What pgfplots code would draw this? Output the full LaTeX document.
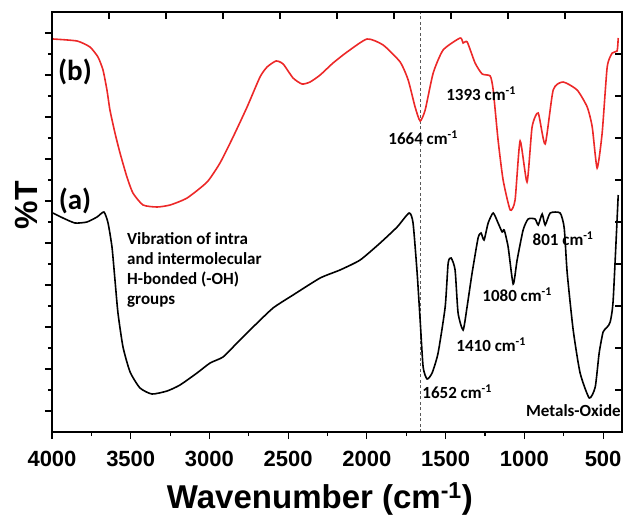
\documentclass[border=0pt]{standalone}
\usepackage{pgfplots}
\pgfplotsset{compat=1.18}
\usepackage{fontspec}
\setmainfont{Liberation Sans}
\newfontfamily\carl{Carlito}
\definecolor{specred}{RGB}{236,40,40}
\tikzset{ann/.style={font=\carl\bfseries\fontsize{17}{20}\selectfont, inner sep=0pt},
         lab/.style={font=\carl\bfseries\fontsize{29}{30}\selectfont, inner sep=0pt}}

\begin{document}
\begin{tikzpicture}
\useasboundingbox (-52pt,-85pt) rectangle (571pt,432pt);
% main axis: bottom and left, ticks outside
\begin{axis}[
  at={(0,0)}, anchor=south west,
  scale only axis, width=570pt, height=420pt,
  x dir=reverse, xmin=380, xmax=4000, ymin=0, ymax=420,
  xtick={500,1000,...,4000}, minor x tick num=1,
  ytick={21,63,...,399}, minor ytick={42,84,...,378}, yticklabels={},
  tick pos=left, tick align=outside,
  major tick length=7pt, minor tick length=4pt,
  every tick/.style={black, line width=1.1pt},
  axis line style={line width=1.2pt},
  clip=false,
  /pgf/number format/assume math mode=true,
  /pgf/number format/set thousands separator={},
  xticklabel style={font=\fontsize{22}{24}\selectfont\bfseries, anchor=base, yshift=-27pt},
  xlabel={Wavenumber (cm\textsuperscript{-1})},
  xlabel style={font=\fontsize{33}{34}\selectfont\bfseries, at={(axis description cs:0.47,-0.181)}, anchor=base},
  ylabel={\%T},
  ylabel style={font=\fontsize{32}{34}\selectfont\bfseries, at={(axis description cs:-0.044,0.54)}, anchor=center},
]
% dashed marker line at 1662 cm-1
\addplot[gray!70!black, line width=0.9pt, dash pattern=on 3pt off 2.5pt] coordinates {(1662,0) (1662,420)};

% (b) red spectrum
\addplot[specred, line width=1.6pt, smooth, tension=0.35] coordinates {
(3994,393) (3841,391) (3759,385) (3708,375) (3676,362) (3651,342) (3632,322)
(3600,299) (3568,279) (3524,255) (3486,239) (3422,227) (3333,225) (3250,227)
(3142,234) (3015,250) (2933,269) (2850,295) (2761,325) (2679,355) (2634,365)
(2577,371) (2532,368) (2469,354) (2412,348) (2361,350) (2297,357) (2215,369)
(2126,380) (1999,393) (1897,387) (1789,370) (1738,352) (1694,325) (1662,311)
(1630,322) (1579,359) (1516,382) (1408,394) (1389,389) (1363,390) (1313,369)
(1268,358) (1217,356) (1198,342) (1167,292) (1135,252) (1090,222) (1059,232)
(1027,291) (983,250) (951,305) (912,319) (868,288) (817,342) (754,350)
(665,342) (601,325) (569,305) (538,264) (506,299) (474,365) (442,379)
(411,381) (404,394)
};

% (a) black spectrum
\addplot[black, line width=1.6pt, smooth, tension=0.35] coordinates {
(3994,219) (3930,214) (3854,209) (3778,210) (3714,215) (3670,220) (3644,209)
(3619,185) (3600,152) (3581,119) (3549,85) (3504,60) (3441,44) (3365,38)
(3269,41) (3187,47) (3079,59) (2996,69) (2914,75) (2825,89) (2723,105)
(2596,124) (2469,137) (2297,154) (2171,162) (2043,172) (1916,189) (1808,205)
(1732,219) (1707,209) (1681,159) (1662,112) (1643,65) (1618,53) (1586,59)
(1548,79) (1503,125) (1484,169) (1465,174) (1440,162) (1421,119) (1389,102)
(1364,125) (1332,159) (1294,194) (1275,199) (1256,192) (1230,209) (1198,219)
(1167,209) (1141,200) (1128,202) (1103,185) (1071,148) (1046,172) (1008,202)
(976,213) (932,213) (912,207) (887,218) (868,207) (836,219) (773,219)
(747,204) (728,159) (690,102) (646,59) (588,34) (550,45) (525,79)
(500,100) (474,105) (455,110) (436,132) (404,237)
};

\node[lab] at (axis cs:3854,360) {(b)};
\node[lab] at (axis cs:3854,231) {(a)};
\node[ann, align=left, anchor=west, font=\carl\bfseries\fontsize{17}{20}\selectfont] at (axis cs:3524,162) {Vibration of intra\\and intermolecular\\H-bonded (-OH)\\groups};
\node[ann] at (axis cs:1643,294) {1664 cm\textsuperscript{-1}};
\node[ann] at (axis cs:1275,338) {1393 cm\textsuperscript{-1}};
\node[ann] at (axis cs:1427,40) {1652 cm\textsuperscript{-1}};
\node[ann] at (axis cs:1211,87) {1410 cm\textsuperscript{-1}};
\node[ann] at (axis cs:1046,137) {1080 cm\textsuperscript{-1}};
\node[ann] at (axis cs:754,193) {801 cm\textsuperscript{-1}};
\node[ann, anchor=east] at (axis cs:387,21) {Metals-Oxide};
\end{axis}
% top and right ticks, inside
\begin{axis}[
  at={(0,0)}, anchor=south west,
  scale only axis, width=570pt, height=420pt,
  xmin=0, xmax=10, ymin=0, ymax=420,
  xtick={0,...,10}, ytick={42,84,...,378},
  xticklabels={}, yticklabels={},
  xtick pos=right, ytick pos=right, tick align=inside,
  major tick length=7pt,
  every tick/.style={black, line width=1.1pt},
  axis line style={line width=1.2pt},
]
\end{axis}
\end{tikzpicture}
\end{document}
